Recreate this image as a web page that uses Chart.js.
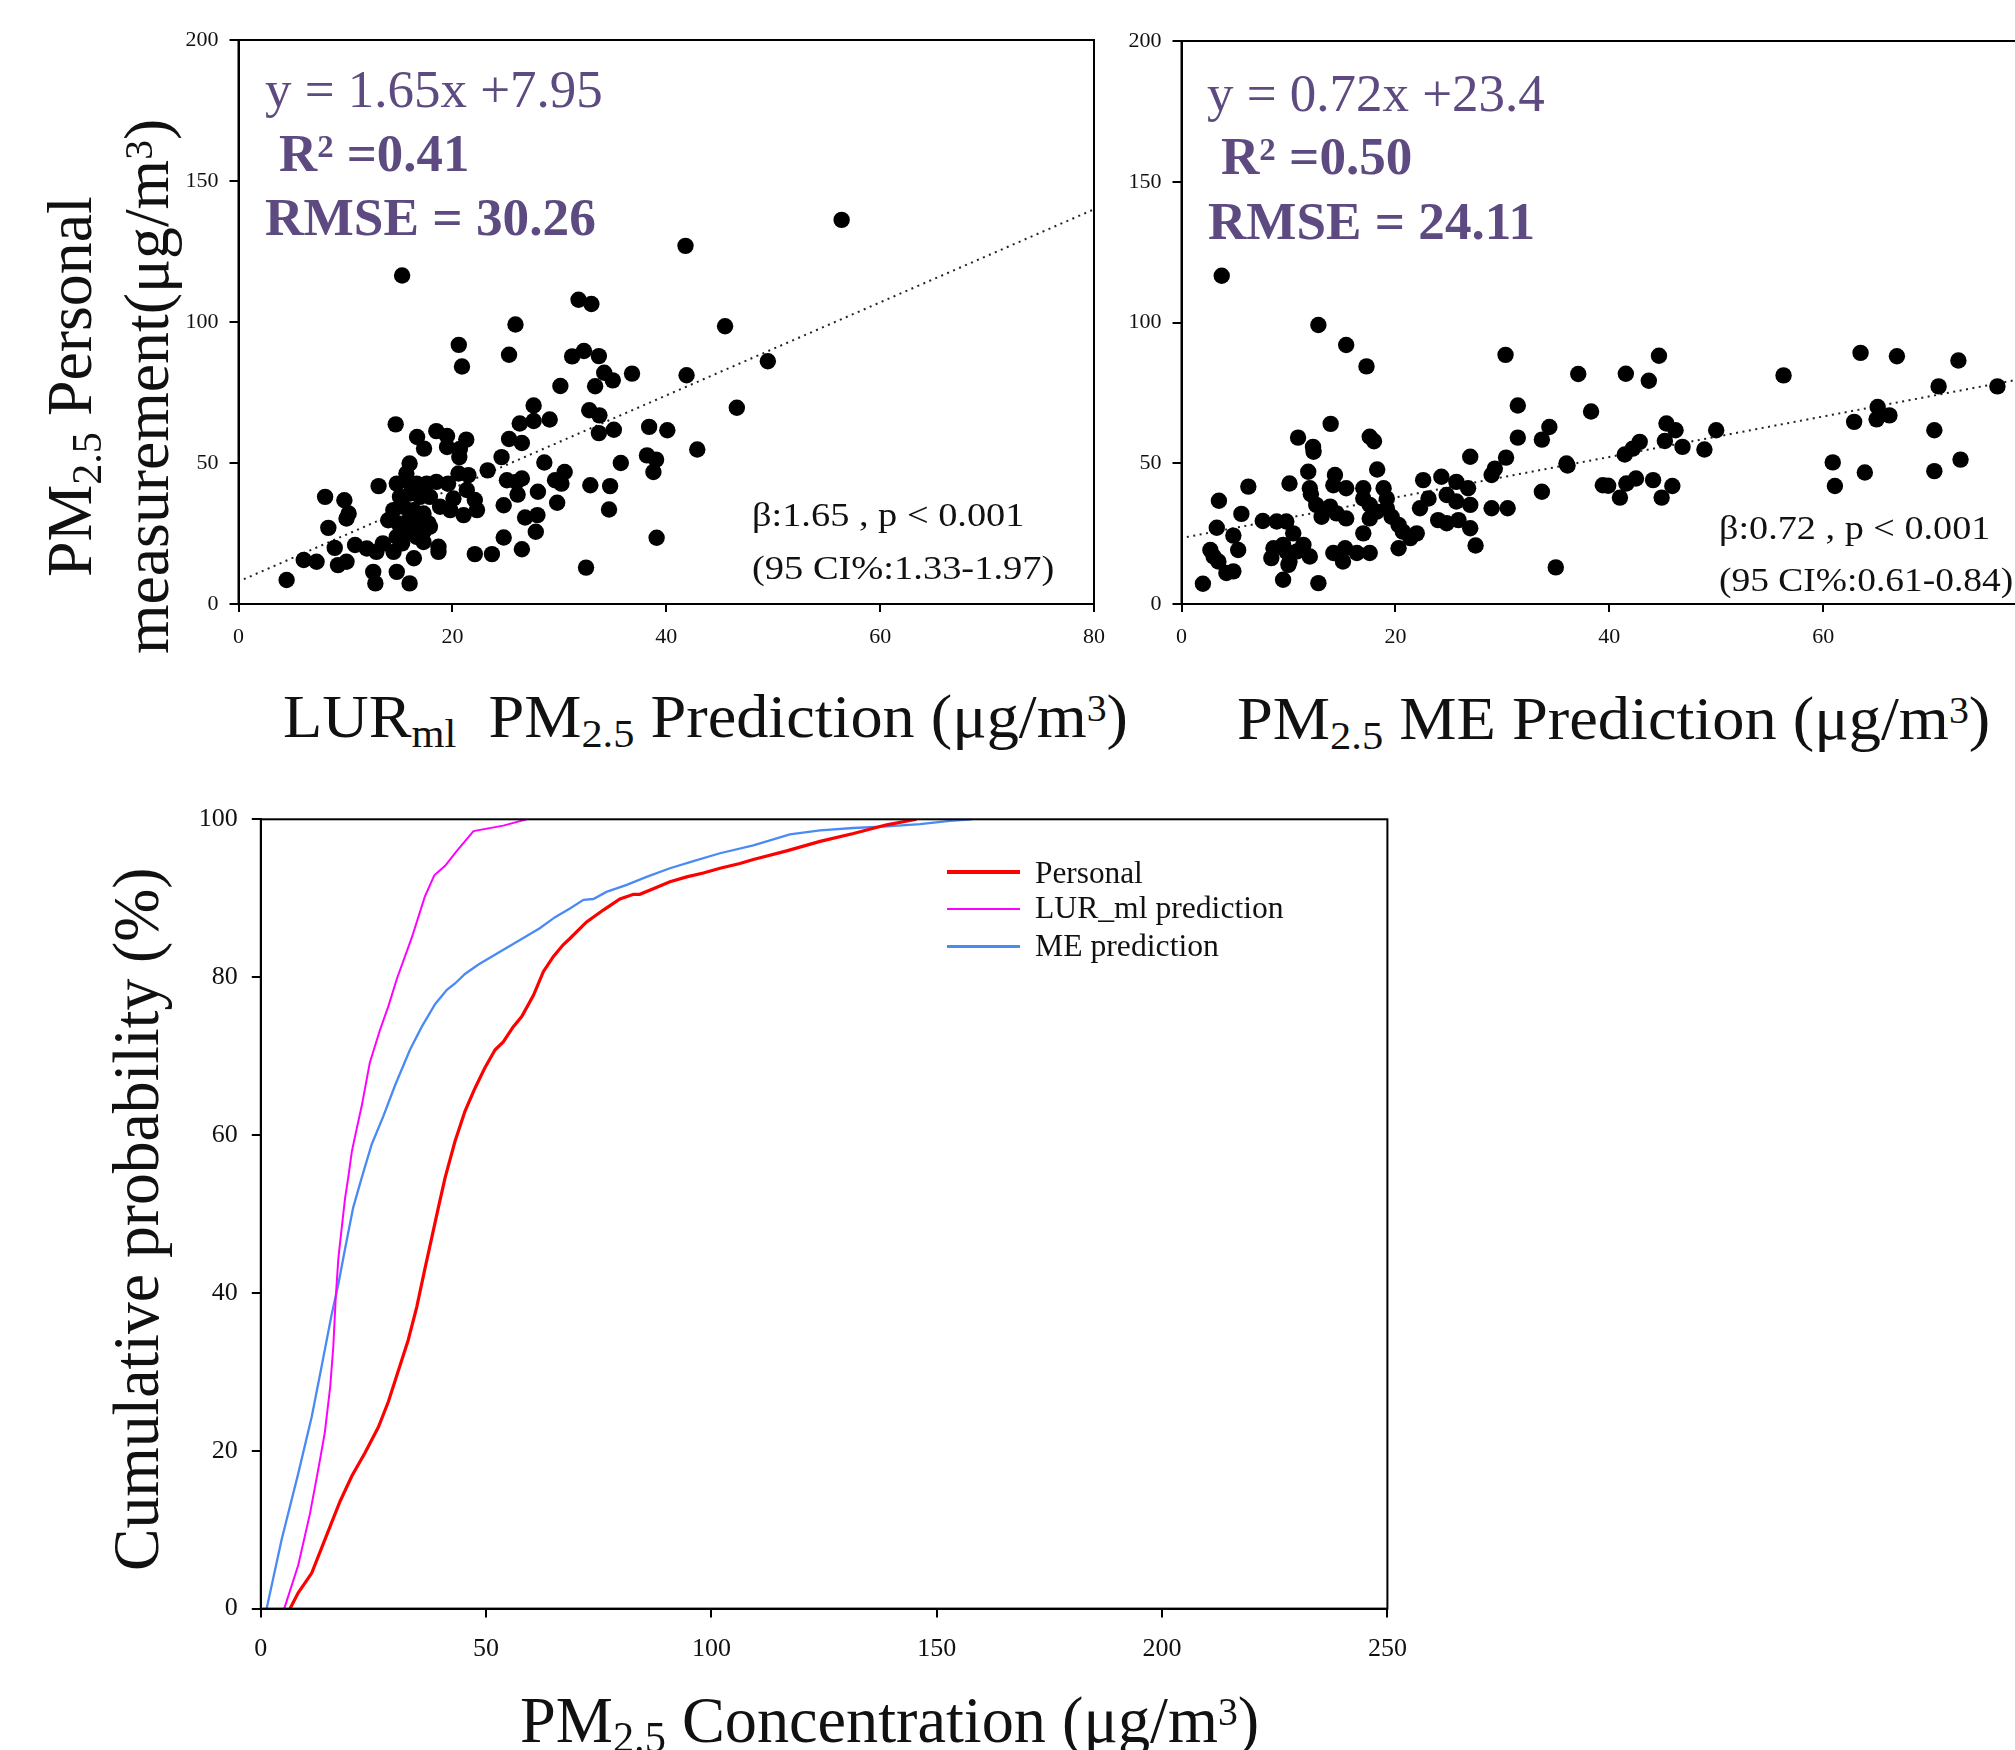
<!DOCTYPE html>
<html><head><meta charset="utf-8">
<script src="https://cdn.jsdelivr.net/npm/chart.js@4.4.1/dist/chart.umd.min.js"></script>
<style>
html,body{margin:0;padding:0;background:#fff;width:2015px;height:1750px;overflow:hidden;position:relative;font-family:"Liberation Serif","Times New Roman",serif;}
canvas{position:absolute;}
.t{position:absolute;left:0;top:0;white-space:nowrap;line-height:1;transform-origin:0 0;color:#111;}
.s{position:relative;top:0.24em;font-size:0.66em;}
.p{position:relative;top:-0.42em;font-size:0.62em;}
.pu{color:#5D4A80;}
.b{font-weight:bold;}
.lg{position:absolute;}
</style></head><body>
<canvas id="c1" width="1120" height="680" style="left:0;top:0;width:1120px;height:680px"></canvas>
<canvas id="c2" width="950" height="680" style="left:1120px;top:0;width:950px;height:680px"></canvas>
<canvas id="c3" width="1420" height="940" style="left:0;top:760px;width:1420px;height:940px"></canvas>

<div class="t" data-rot="1" data-x="91" data-y0="577" data-y1="196" data-f="63">PM<span class="s">2.5</span> Personal</div>
<div class="t" data-rot="1" data-x="168" data-y0="654" data-y1="119" data-f="63">measurement(μg/m<span class="p">3</span>)</div>
<div class="t" data-l="283" data-r="1128" data-b="737" data-f="62">LUR<span class="s">ml</span>&nbsp; PM<span class="s">2.5</span> Prediction (μg/m<span class="p">3</span>)</div>
<div class="t pu" data-l="265" data-r="603" data-b="107" data-f="52">y = 1.65x +7.95</div>
<div class="t pu b" data-l="279" data-r="469" data-b="171" data-f="52">R<span class="p">2</span> =0.41</div>
<div class="t pu b" data-l="265" data-r="596" data-b="235" data-f="52">RMSE = 30.26</div>
<div class="t" data-l="752" data-r="1024" data-b="526" data-f="34">β:1.65 , p &lt; 0.001</div>
<div class="t" data-l="752" data-r="1054" data-b="579" data-f="34">(95 CI%:1.33-1.97)</div>

<div class="t" data-l="1237" data-r="1990" data-b="739" data-f="62">PM<span class="s">2.5</span> ME Prediction (μg/m<span class="p">3</span>)</div>
<div class="t pu" data-l="1207" data-r="1545" data-b="111" data-f="52">y = 0.72x +23.4</div>
<div class="t pu b" data-l="1221" data-r="1412" data-b="174" data-f="52">R<span class="p">2</span> =0.50</div>
<div class="t pu b" data-l="1208" data-r="1535" data-b="239" data-f="52">RMSE = 24.11</div>
<div class="t" data-l="1719" data-r="1990" data-b="539" data-f="34">β:0.72 , p &lt; 0.001</div>
<div class="t" data-l="1719" data-r="2013" data-b="591" data-f="34">(95 CI%:0.61-0.84)</div>

<div class="t" data-rot="1" data-x="158" data-y0="1571" data-y1="867" data-f="66">Cumulative probability (%)</div>
<div class="t" data-l="520" data-r="1259" data-b="1742" data-f="66">PM<span class="s">2.5</span> Concentration (μg/m<span class="p">3</span>)</div>

<div class="lg" style="left:947px;top:870px;width:73px;height:4px;background:#FF0000"></div>
<div class="lg" style="left:947px;top:908px;width:73px;height:2px;background:#FF00FF"></div>
<div class="lg" style="left:947px;top:945px;width:73px;height:2.5px;background:#4A8AF4"></div>
<div class="t" data-l="1035" data-r="1143" data-b="883" data-f="31">Personal</div>
<div class="t" data-l="1035" data-r="1284" data-b="918" data-f="31">LUR_ml prediction</div>
<div class="t" data-l="1035" data-r="1219" data-b="956" data-f="31">ME prediction</div>

<script>
// ---------- Data: LUR_ml prediction vs personal ----------
const lurX = [4.5,6.1,7.3,8.1,8.4,9.0,9.3,9.9,10.3,10.1,10.1,10.9,12.0,12.9,13.5,14.5,15.3,12.6,12.8,14.8,16.0,16.4,18.7,18.7,22.1,23.7,24.8,24.8,24.6,23.3,26.3,25.3,26.0,26.1,15.3,20.6,20.9,25.9,25.3,14.7,16.7,17.35,18.5,19.5,19.5,21.3,20.7,20.65,16.0,15.7,13.1,
 14.8,15.73,16.67,17.6,15.1,16.04,16.98,17.9,14.48,15.42,16.35,17.3,14.95,15.9,16.82,17.76,15.42,16.35,17.3,18.5,19.6,20.57,21.5,21.35,22.1,22.3,21.05,19.8,18.85,20.1,14.0,14.8,16.67,17.3,17.9,
 56.4,41.8,31.8,33.0,45.5,31.2,32.3,33.7,49.5,34.2,35.0,36.8,41.9,33.35,30.1,27.6,46.6,27.6,29.1,32.8,33.75,33.7,35.1,38.4,40.1,42.9,26.5,28.6,35.75,38.2,39.05,38.8,30.5,29.6,30.2,26.5,25.1,28.0,32.9,34.75,29.8,26.8,27.95,34.65,27.8,26.5,39.1,32.5];
const lurY = [8.5,15.6,15.0,38.0,27.0,19.9,13.8,36.8,32.1,30.3,15.0,20.9,19.7,18.5,21.5,18.5,21.5,11.4,7.3,11.4,7.3,16.2,20.3,18.5,17.7,17.7,23.6,35.0,52.1,47.4,64.0,58.5,43.3,38.8,116.5,91.9,84.2,99.1,88.4,63.7,59.2,55.1,61.3,59.6,55.7,58.3,55.0,52.1,49.8,46.3,41.8,
 42.7,43.9,42.7,42.7,38.0,39.2,38.0,38.0,33.3,34.5,33.3,32.1,28.6,29.7,28.6,28.6,25.0,25.0,25.6,43.3,42.7,46.3,45.7,40.4,36.9,33.3,31.5,33.3,34.5,37.4,29.7,23.8,23.8,22.0,27.4,
 136.2,127.0,107.9,106.4,98.5,87.8,89.7,87.9,86.1,82.0,79.3,81.7,81.1,77.2,77.3,70.4,69.6,64.9,65.4,68.7,66.9,60.6,61.8,62.8,61.6,54.8,57.1,50.2,50.0,52.7,51.2,46.8,46.8,43.9,42.7,44.5,43.9,39.8,42.1,41.8,35.9,30.7,31.5,33.5,25.6,19.4,23.5,12.9];
const lurFitX = [0.5, 80];
const lurFitY = [8.8, 139.95];

// ---------- Data: ME prediction vs personal ----------
const meX = [3.76,12.8,15.4,17.3,30.3,31.45,31.45,30.35,29.0,29.3,27.0,13.95,10.9,12.3,12.35,17.6,18.0,18.3,6.25,3.5,5.6,3.3,4.85,5.3,2.7,3.0,3.45,4.2,4.85,2.0,7.6,8.9,9.8,10.45,8.6,8.4,9.5,9.8,10.1,10.8,11.4,12.0,9.5,12.8,11.85,12.0,12.1,10.1,14.35,14.2,15.4,17.0,18.9,19.2,12.6,13.25,13.9,14.5,15.4,13.1,17.0,17.6,18.25,19.2,19.65,20.3,20.7,22.0,21.4,22.3,23.1,20.3,17.0,22.6,24.3,25.7,26.8,24.8,25.7,27.0,24.0,24.8,25.9,27.0,27.5,29.0,30.5,14.2,15.3,16.4,17.6,15.1,10.0,17.6,
 37.1,41.55,43.7,44.65,56.3,63.5,66.9,72.65,70.8,76.3,38.3,34.4,33.7,45.35,46.2,45.2,46.85,48.9,50.0,42.85,42.2,41.45,36.0,36.1,33.7,39.4,39.9,41.0,41.6,42.5,44.1,44.9,45.9,35.0,62.9,65.1,65.0,66.2,60.9,61.1,63.9,70.4,70.4,72.85];
const meY = [116.6,99.1,92.0,84.4,88.5,70.5,59.1,52.0,45.8,48.1,52.3,64.0,59.1,55.8,54.1,59.4,57.8,47.8,41.7,36.7,32.0,27.1,24.3,19.2,19.2,16.9,15.1,11.0,11.6,7.2,29.5,29.3,29.3,25.1,19.8,16.3,21.0,18.7,15.1,18.7,21.0,16.9,8.6,7.4,47.0,41.1,39.0,42.8,45.8,42.2,41.1,41.1,41.1,37.5,35.2,32.8,34.6,32.2,30.4,31.0,37.5,35.2,32.8,34.0,31.0,28.1,25.7,25.1,23.4,34.0,37.5,19.8,25.1,44.0,45.2,43.4,41.1,38.7,36.4,35.2,29.8,28.7,29.8,26.9,20.8,34.0,34.0,18.1,19.8,18.1,18.1,15.1,13.9,30.4,
 81.7,81.8,79.3,88.2,81.2,89.2,88.0,86.5,77.3,77.3,68.4,62.9,58.4,64.1,61.7,57.9,55.8,54.9,61.7,57.6,55.2,53.1,49.9,49.2,39.9,42.2,42.0,37.8,42.8,44.6,44.0,37.8,41.9,13.0,64.7,70.0,65.6,67.0,50.3,41.9,46.7,61.7,47.2,51.3];
const meFitX = [0.5, 80];
const meFitY = [23.8, 81.0];

// ---------- Data: cumulative distributions ----------
const personalX = [6.5,8.3,11.3,14.2,17.6,20.2,23.1,26.1,28.3,30.5,32.7,34.6,36.4,37.9,39.4,40.9,43.1,45.3,47.5,49.7,52.0,53.8,56.0,57.9,60.5,62.7,64.9,67.1,68.6,72.3,76.0,79.7,82.7,84.1,87.1,90.8,94.5,98.2,101.9,106.3,109.3,116.7,124.1,131.5,138.9,145.5];
const personalY = [0,2.0,4.5,8.7,13.6,16.8,19.7,23.0,26.2,30.1,34.0,38.2,43.0,46.9,50.8,54.6,59.2,63.0,65.9,68.5,70.8,71.8,73.7,75.0,77.7,80.7,82.6,84.1,84.9,87.0,88.5,89.9,90.5,90.5,91.2,92.1,92.7,93.2,93.8,94.4,94.9,96.0,97.2,98.2,99.3,100];
const lurCdfX = [5.2,8.3,10.9,12.8,14.2,15.4,16.1,16.6,17.2,17.95,18.7,19.4,20.2,20.9,22.4,24.2,26.5,28.3,30.2,33.5,36.4,38.5,40.9,43.5,47.2,53.8,59.0];
const lurCdfY = [0,5.5,12.0,17.8,22.3,28.1,33.3,39.1,44.3,48.2,52.0,54.6,57.9,59.8,63.7,69.2,73.4,76.3,79.8,85.0,90.2,92.9,94.1,96.0,98.5,99.2,100];
const meCdfX = [1.3,4.6,8.3,11.3,13.5,15.7,17.2,18.7,20.5,22.4,24.6,27.2,29.8,33.1,35.7,38.7,41.3,43.1,45.3,48.3,52.7,57.5,61.9,65.3,68.6,71.6,73.8,76.7,81.2,85.6,90.8,96.0,101.9,109.3,117.4,124.1,131.5,138.9,146.3,152.9,157.7];
const meCdfY = [0,8.7,17.1,24.3,30.7,37.2,41.1,45.6,50.8,54.6,58.8,62.4,66.3,70.8,73.7,76.6,78.4,79.2,80.4,81.6,83.1,84.7,86.2,87.6,88.7,89.8,89.9,90.8,91.7,92.7,93.8,94.7,95.7,96.7,98.1,98.6,98.9,99.1,99.4,99.8,100];

const xTicks1 = [0,20,40,60,80], yTicks1 = [0,50,100,150,200];
const xTicks3 = [0,50,100,150,200,250], yTicks3 = [0,20,40,60,80,100];

// ---------- helpers ----------
const pts = (xs, ys) => xs.map((x, i) => ({x, y: ys[i]}));
const FONT = 'Liberation Serif';
function axis(ticks, pos, fsize, tl, pad, size){
  return {
    type:'linear', position:pos, min:ticks[0], max:ticks[ticks.length-1],
    afterBuildTicks(s){ s.ticks = ticks.map(v => ({value:v})); },
    ticks:{color:'#111', font:{family:FONT, size:fsize}, padding:pad, maxRotation:0, autoSkip:false},
    grid:{display:true, drawOnChartArea:false, drawTicks:true, tickLength:tl, color:'#000', lineWidth:2},
    border:{display:true, color:'#000', width:2},
    afterFit(s){
      if(pos === 'left'){ s.width = size; s.paddingTop = 0; s.paddingBottom = 0; }
      else { s.height = size; s.paddingLeft = 0; s.paddingRight = 0; }
    }
  };
}
const frame = {id:'frame', afterDraw(c){ const a=c.chartArea, x=c.ctx; x.save(); x.strokeStyle='#000'; x.lineWidth=2; x.strokeRect(a.left, a.top, a.right-a.left, a.bottom-a.top); x.restore(); }};
const base = {responsive:false, animation:false, devicePixelRatio:1, events:[], plugins:{legend:{display:false}, tooltip:{enabled:false}}};

function scatterCfg(xs, ys, fx, fy, yw, pad){
  return {
    type:'scatter',
    data:{datasets:[
      {data:pts(xs, ys), pointRadius:8.2, pointBackgroundColor:'#000', pointBorderWidth:0, order:0},
      {data:pts(fx, fy), showLine:true, pointRadius:0, borderColor:'#222', borderWidth:2, borderDash:[2,4.5], order:1}
    ]},
    options:Object.assign({}, base, {
      layout:{padding:pad},
      scales:{x:axis(xTicks1,'bottom',22,8,12,76), y:axis(yTicks1,'left',22,9,11,yw)}
    }),
    plugins:[frame]
  };
}
new Chart(document.getElementById('c1'), scatterCfg(lurX, lurY, lurFitX, lurFitY, 238.5, {left:0, top:40, right:26, bottom:0}));
new Chart(document.getElementById('c2'), scatterCfg(meX, meY, meFitX, meFitY, 61.5, {left:0, top:41, right:33, bottom:0}));

new Chart(document.getElementById('c3'), {
  type:'scatter',
  data:{datasets:[
    {label:'Personal', data:pts(personalX, personalY), showLine:true, pointRadius:0, borderColor:'#FF0000', borderWidth:3.2, tension:0},
    {label:'LUR_ml prediction', data:pts(lurCdfX, lurCdfY), showLine:true, pointRadius:0, borderColor:'#FF00FF', borderWidth:2, tension:0},
    {label:'ME prediction', data:pts(meCdfX, meCdfY), showLine:true, pointRadius:0, borderColor:'#4A8AF4', borderWidth:2.3, tension:0}
  ]},
  options:Object.assign({}, base, {
    layout:{padding:{left:0, top:59.3, right:32.6, bottom:0}},
    scales:{x:axis(xTicks3,'bottom',26,9,16,91.4), y:axis(yTicks3,'left',26,9,14,260.8)}
  }),
  plugins:[frame]
});

// ---------- place text ----------
document.querySelectorAll('.t').forEach(el => {
  const F = +el.dataset.f; el.style.fontSize = F + 'px';
  const m = document.createElement('span'); m.style.cssText = 'display:inline-block;width:0;height:0;';
  el.appendChild(m);
  const yb = m.offsetTop; const W = el.offsetWidth;
  if(el.dataset.rot){
    const bx = +el.dataset.x, y0 = +el.dataset.y0, y1 = +el.dataset.y1, s = (y0 - y1) / W;
    el.style.transform = `translate(${bx - yb}px,${y0}px) rotate(-90deg) scaleX(${s})`;
  } else {
    const l = +el.dataset.l, r = +el.dataset.r, b = +el.dataset.b, s = (r - l) / W;
    el.style.transform = `translate(${l}px,${b - yb}px) scaleX(${s})`;
  }
});
</script>
</body></html>
